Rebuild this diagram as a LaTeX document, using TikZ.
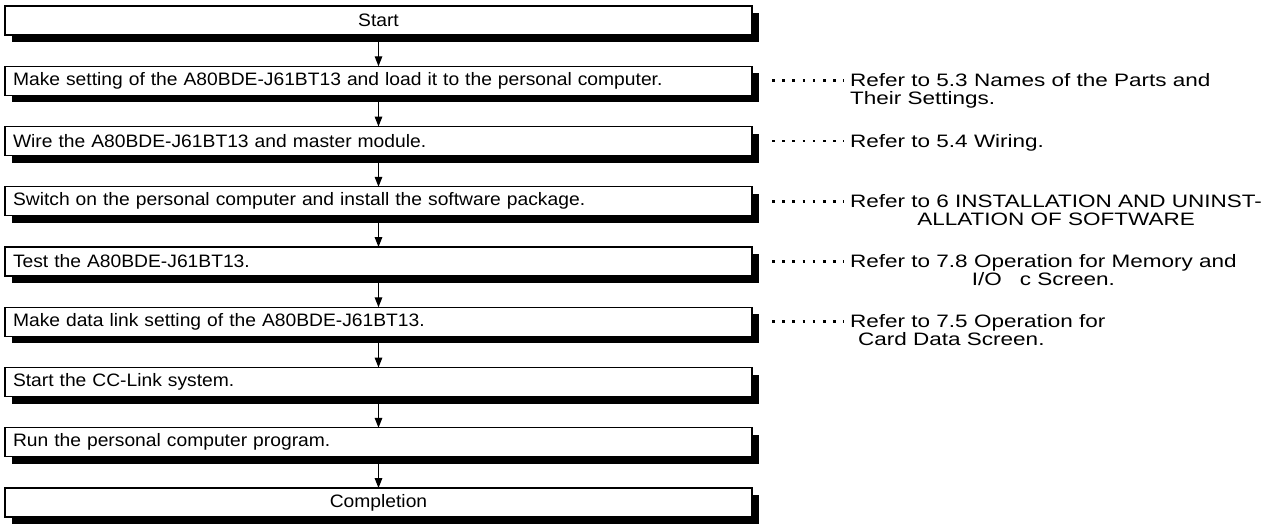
\documentclass[tikz,border=0pt]{standalone}
\usepackage{fontspec}
\setmainfont{Liberation Sans}[FakeStretch=1.07]
\newfontfamily\notefont{Liberation Sans}[FakeStretch=1.25]
\usetikzlibrary{positioning,shadows,arrows.meta}
\tikzset{
node distance=60.25pt, % step between two boxes
stepbox/.style={draw, fill=white, line width=1.3pt, outer sep=0pt,
  minimum width=747pt, minimum height=29pt, text width=731pt, inner xsep=8pt,
  drop shadow={shadow xshift=7pt, shadow yshift=-7pt, fill=black, opacity=1}},
ends/.style={stepbox, align=center},
job/.style={stepbox, align=left},
note/.style={inner sep=0pt, anchor=north west, font=\notefont\fontsize{18}{18}\selectfont},
leader/.style={line width=2.6pt, dash pattern=on 2.6pt off 7.6pt},
flow/.style={line width=1.4pt, -{Triangle[length=10pt,width=7.5pt]}},
}

\begin{document}
\begin{tikzpicture}[x=1pt,y=-1pt,on grid,font=\fontsize{18}{20}\selectfont]
   \useasboundingbox (0,0) rectangle (1282,525);
   \node[ends] (b_0) at (378.5,20.5) {Start};
   \node[job] (b_1) [below=of b_0] {Make setting of the A80BDE-J61BT13 and load it to the personal computer.};
   \node[job] (b_2) [below=of b_1] {Wire the A80BDE-J61BT13 and master module.};
   \node[job] (b_3) [below=of b_2] {Switch on the personal computer and install the software package.};
   \node[job] (b_4) [below=of b_3] {Test the A80BDE-J61BT13.};
   \node[job] (b_5) [below=of b_4] {Make data link setting of the A80BDE-J61BT13.};
   \node[job] (b_6) [below=of b_5] {Start the CC-Link system.};
   \node[job] (b_7) [below=of b_6] {Run the personal computer program.};
   \node[ends] (b_8) [below=of b_7] {Completion};
   % references on the right
   \node[note, align=left] (r_1) at ([xshift=98pt,yshift=7pt]b_1.east) {Refer to 5.3 Names of the Parts and\\Their Settings.};
   \node[note, align=left] (r_2) at ([xshift=98pt,yshift=7pt]b_2.east) {Refer to 5.4 Wiring.};
   \node[note, align=center] (r_3) at ([xshift=98pt,yshift=7pt]b_3.east) {Refer to 6 INSTALLATION AND UNINST-\\ALLATION OF SOFTWARE};
   \node[note, align=center] (r_4) at ([xshift=98pt,yshift=7pt]b_4.east) {Refer to 7.8 Operation for Memory and\\I/O\quad c Screen.};
   \node[note, align=left] (r_5) at ([xshift=98pt,yshift=7pt]b_5.east) {Refer to 7.5 Operation for\\\hspace{8pt}Card Data Screen.};
   \path[flow]
    (b_0) edge (b_1)
    (b_1) edge (b_2)
    (b_2) edge (b_3)
    (b_3) edge (b_4)
    (b_4) edge (b_5)
    (b_5) edge (b_6)
    (b_6) edge (b_7)
    (b_7) edge (b_8);
   \foreach \i in {1,...,5}
    \draw[leader] ([xshift=20pt]b_\i.east) -- ([xshift=-6pt,yshift=-7pt]r_\i.north west);
\end{tikzpicture}
\end{document}
